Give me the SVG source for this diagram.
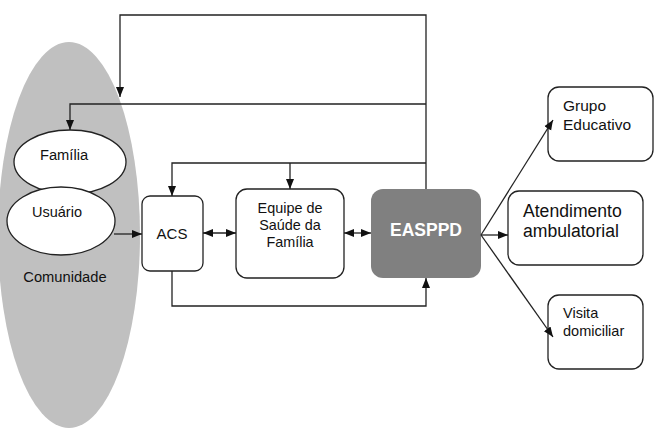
<svg xmlns="http://www.w3.org/2000/svg" width="654" height="431" viewBox="0 0 654 431">
<defs>
<marker id="ah" markerUnits="userSpaceOnUse" markerWidth="10" markerHeight="10" viewBox="0 0 10 10" refX="10" refY="5" orient="auto-start-reverse">
<path d="M0,1 L10,5 L0,9 Z" fill="#111"/>
</marker>
</defs>
<style>
.ln{fill:none;stroke:#222;stroke-width:1.3}
.bx{fill:#fff;stroke:#222;stroke-width:1.3}
.t{font-family:"Liberation Sans",Arial,sans-serif;fill:#111}
</style>
<g id="comunidade">
<ellipse cx="69" cy="235" rx="71" ry="193" fill="#c0c0c0"/>
<text class="t" x="65" y="282" font-size="14.7" text-anchor="middle">Comunidade</text>
</g>
<g id="familia">
<ellipse class="bx" cx="70" cy="162" rx="56" ry="32"/>
<text class="t" x="64" y="160" font-size="14.7" text-anchor="middle">Família</text>
</g>
<g id="usuario">
<ellipse class="bx" cx="61" cy="221" rx="54" ry="34"/>
<text class="t" x="57" y="217" font-size="14.5" text-anchor="middle">Usuário</text>
</g>
<g id="acs">
<rect class="bx" x="142" y="196" width="61" height="75" rx="8"/>
<text class="t" x="172" y="239" font-size="15" text-anchor="middle">ACS</text>
</g>
<g id="equipe">
<rect class="bx" x="236" y="189" width="108" height="89" rx="11"/>
<text class="t" x="290" y="213" font-size="14.4" text-anchor="middle">Equipe de</text>
<text class="t" x="290" y="230" font-size="14.4" text-anchor="middle">Saúde da</text>
<text class="t" x="290" y="247" font-size="14.4" text-anchor="middle">Família</text>
</g>
<g id="easppd">
<rect x="371" y="189" width="110" height="89" rx="12" fill="#808080"/>
<text class="t" x="426" y="236" font-size="17.5" font-weight="bold" text-anchor="middle" style="fill:#fff">EASPPD</text>
</g>
<g id="grupo">
<rect class="bx" x="548" y="87" width="105" height="74" rx="11"/>
<text class="t" x="563" y="111" font-size="15.5">Grupo</text>
<text class="t" x="563" y="130" font-size="15.5">Educativo</text>
</g>
<g id="atendimento">
<rect class="bx" x="508" y="191" width="135" height="74" rx="11"/>
<text class="t" x="523" y="217" font-size="17.6">Atendimento</text>
<text class="t" x="523" y="237" font-size="17.6">ambulatorial</text>
</g>
<g id="visita">
<rect class="bx" x="548" y="295" width="95" height="74" rx="11"/>
<text class="t" x="563" y="318" font-size="14.5">Visita</text>
<text class="t" x="563" y="336" font-size="14.5">domiciliar</text>
</g>
<g id="connectors">
<path class="ln" d="M426,189 V15 H120 V97" marker-end="url(#ah)"/>
<path class="ln" d="M426,104 H70 V130" marker-end="url(#ah)"/>
<path class="ln" d="M426,163 H172 V196" marker-end="url(#ah)"/>
<path class="ln" d="M290,163 V189" marker-end="url(#ah)"/>
<path class="ln" d="M114,234 H142" marker-end="url(#ah)"/>
<path class="ln" d="M203,233 H236" marker-start="url(#ah)" marker-end="url(#ah)"/>
<path class="ln" d="M344,233 H371" marker-start="url(#ah)" marker-end="url(#ah)"/>
<path class="ln" d="M172,271 V306 H426 V278" marker-end="url(#ah)"/>
<path class="ln" d="M481,235 L553,120" marker-end="url(#ah)"/>
<path class="ln" d="M481,235 H508" marker-end="url(#ah)"/>
<path class="ln" d="M481,235 L553,337" marker-end="url(#ah)"/>
</g>
</svg>
